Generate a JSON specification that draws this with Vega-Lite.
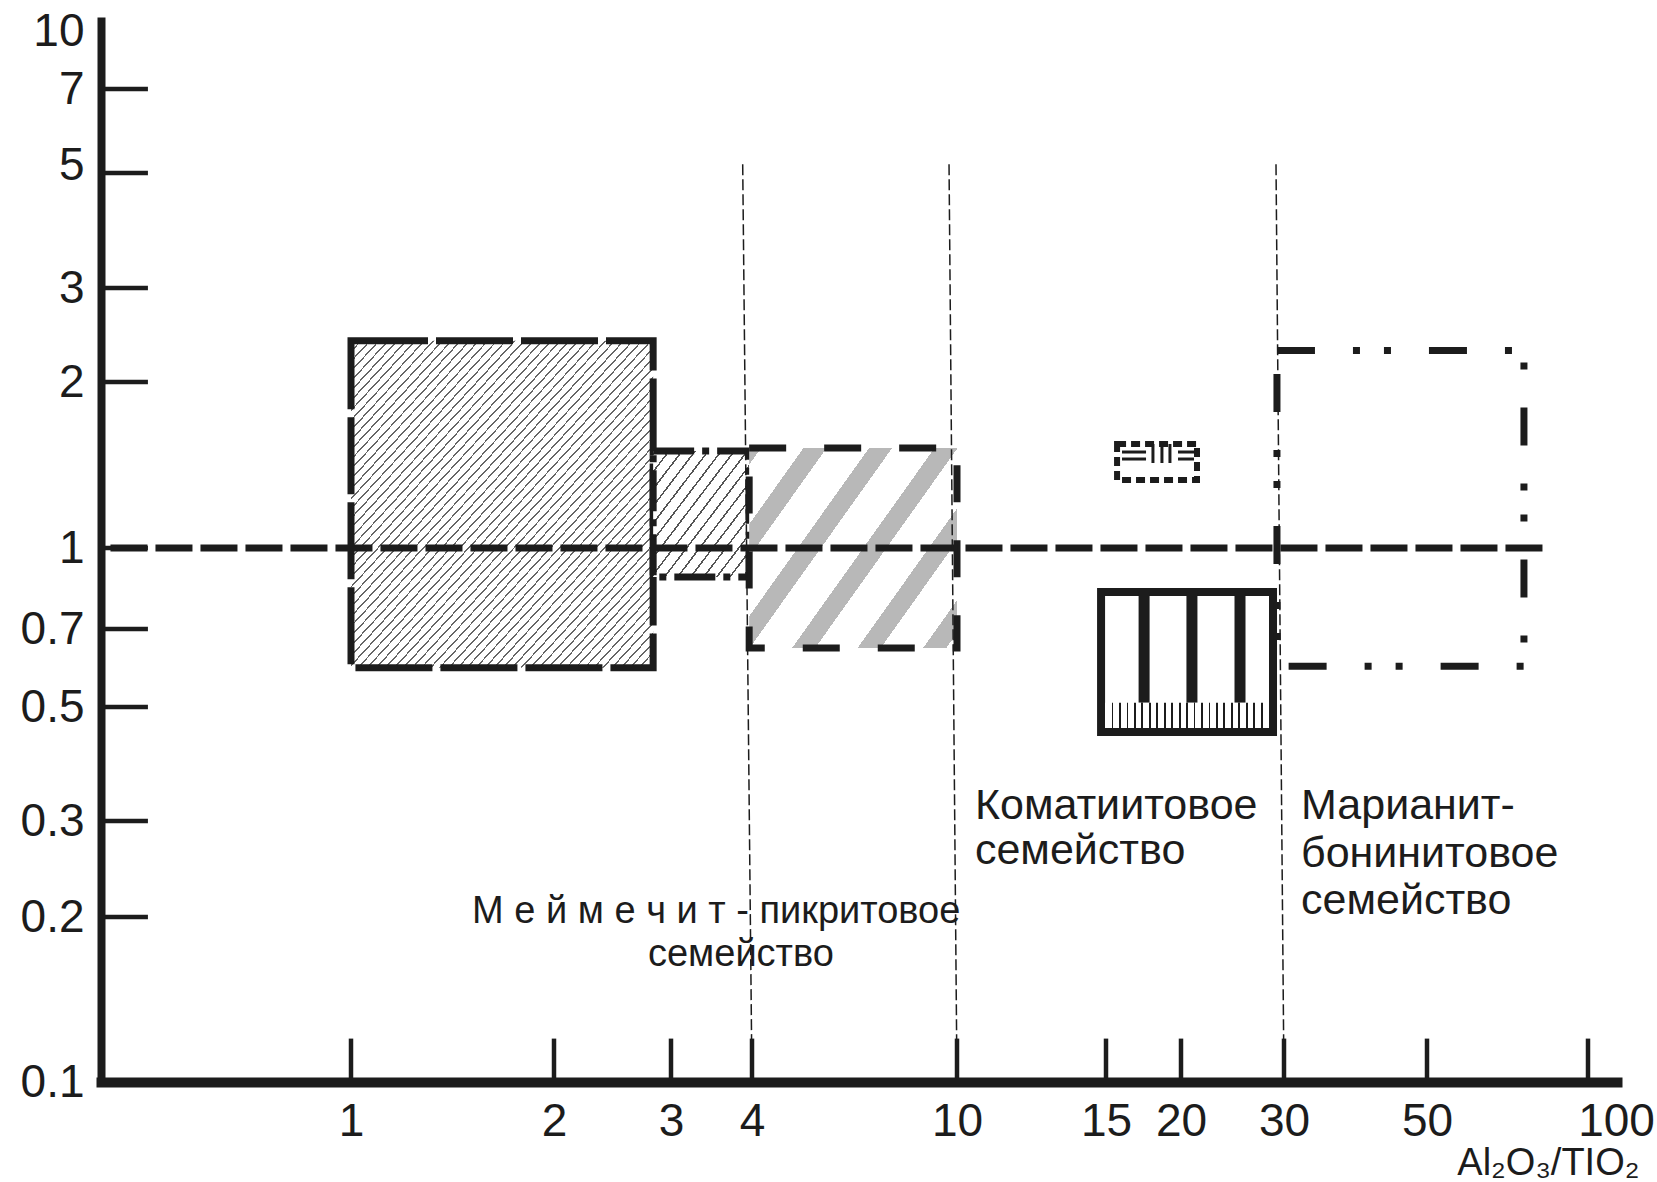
{
"$schema": "https://vega.github.io/schema/vega-lite/v6.json",
"width": 1516, "height": 1065,
"autosize": {"type": "none"},
"padding": {"left": 101, "top": 17, "right": 40, "bottom": 100},
"background": "#ffffff",
"config": {"view": {"stroke": null}, "font": "Liberation Sans"},
"datasets": {
 "boxes": [
  {"id":"A","x":1,"x2":2.82,"y":0.592,"y2":2.39},
  {"id":"B","x":2.82,"x2":3.96,"y":0.88,"y2":1.5},
  {"id":"C","x":3.96,"x2":10,"y":0.645,"y2":1.518},
  {"id":"D","x":14.8,"x2":28.73,"y":0.447,"y2":0.824},
  {"id":"Dband","x":14.96,"x2":28.28,"y":0.455,"y2":0.509},
  {"id":"E","x":29.18,"x2":75.9,"y":0.596,"y2":2.29},
  {"id":"F","x":15.65,"x2":21.3,"y":1.328,"y2":1.544}
 ],
 "bars": [{"x":17.36,"y":0.509,"y2":0.824},{"x":20.88,"y":0.509,"y2":0.824},{"x":25.23,"y":0.509,"y2":0.824}],
 "vlines": [{"x":3.87,"x2":4,"y":5.18,"y2":0.1},{"x":9.65,"x2":10,"y":5.18,"y2":0.1},{"x":29.07,"x2":30,"y":5.18,"y2":0.1}],
 "hline": [{"x":0.44,"x2":82.4,"y":1}],
 "yticks": [{"x":0.426,"x2":0.5,"y":7},{"x":0.426,"x2":0.5,"y":5},{"x":0.426,"x2":0.5,"y":3},{"x":0.426,"x2":0.5,"y":2},{"x":0.426,"x2":0.5,"y":1},{"x":0.426,"x2":0.5,"y":0.7},{"x":0.426,"x2":0.5,"y":0.5},{"x":0.426,"x2":0.5,"y":0.3},{"x":0.426,"x2":0.5,"y":0.2}],
 "xticks": [{"x":1,"y":0.1,"y2":0.12},{"x":2,"y":0.1,"y2":0.12},{"x":3,"y":0.1,"y2":0.12},{"x":4,"y":0.1,"y2":0.12},{"x":10,"y":0.1,"y2":0.12},{"x":15,"y":0.1,"y2":0.12},{"x":20,"y":0.1,"y2":0.12},{"x":30,"y":0.1,"y2":0.12},{"x":50,"y":0.1,"y2":0.12},{"x":100,"y":0.1,"y2":0.12}],
 "fsym": [
  {"x":17.96,"x2":17.96,"y":1.426,"y2":1.544},
  {"x":18.59,"x2":18.59,"y":1.426,"y2":1.544},
  {"x":19.17,"x2":19.17,"y":1.426,"y2":1.544},
  {"x":15.95,"x2":17.49,"y":1.493,"y2":1.493},
  {"x":15.95,"x2":17.49,"y":1.45,"y2":1.45},
  {"x":19.77,"x2":21.05,"y":1.493,"y2":1.493},
  {"x":19.77,"x2":21.05,"y":1.45,"y2":1.45}
 ],
 "labels1": [
  {"x":10.5,"y":0.3027,"t":"Коматиитовое"},
  {"x":10.5,"y":0.25,"t":"семейство"},
  {"x":31.88,"y":0.3027,"t":"Марианит-"},
  {"x":31.88,"y":0.247,"t":"бонинитовое"},
  {"x":31.88,"y":0.2025,"t":"семейство"}
 ],
 "labels2": [
  {"x":1.512,"y":0.195,"t":"М е й м е ч и т - пикритовое"},
  {"x":2.77,"y":0.163,"t":"семейство"}
 ]
},
"encoding": {
 "x": {"field": "x", "type": "quantitative",
  "scale": {"type": "log", "domain": [0.426,1,2,3,4,10,15,20,30,50,100,113], "range": [0,250,453,570,651,856,1005,1080,1183,1326,1487,1516], "nice": false},
  "axis": {"values": [1,2,3,4,10,15,20,30,50,100], "format": "~g", "ticks": false, "grid": false,
   "domainColor": "#1c1c1c", "domainWidth": 10, "domainCap": "square",
   "labelFont": "Liberation Sans", "labelFontSize": 46, "labelColor": "#1c1c1c",
   "labelPadding": 17, "labelBaseline": "top", "labelAlign": "center",
   "labelOffset": {"condition": {"test": "datum.value === 100", "value": 28}, "value": 0},
   "labelFlush": false, "labelOverlap": false,
   "title": "Al₂O₃/TIO₂", "titleFont": "Liberation Sans", "titleFontSize": 38, "titleFontWeight": "normal", "titleColor": "#1c1c1c",
   "titleAnchor": "end", "titleAlign": "right", "titleBaseline": "alphabetic", "titleX": 1538, "titleY": 92}},
 "y": {"field": "y", "type": "quantitative",
  "scale": {"type": "log", "domain": [0.1,0.2,0.3,0.5,0.7,1,2,3,5,7,10], "range": [1065,900,804,690,612,531,365,271,156,72,0], "nice": false},
  "axis": {"values": [0.1,0.2,0.3,0.5,0.7,1,2,3,5,7,10], "format": "~g", "ticks": false, "grid": false,
   "domainColor": "#1c1c1c", "domainWidth": 8, "domainCap": "butt",
   "labelFont": "Liberation Sans", "labelFontSize": 46, "labelColor": "#1c1c1c",
   "labelPadding": 17, "labelAlign": "right", "labelBaseline": "middle",
   "labelOffset": {"condition": [{"test": "datum.value === 10", "value": 14}, {"test": "datum.value === 5", "value": -8}], "value": 0},
   "labelFlush": false, "labelOverlap": false, "title": null}}
},
"layer": [
 {"data": {"name": "boxes"}, "transform": [{"filter": "datum.id === 'A'"}],
  "mark": {"type": "rect", "stroke": "#1c1c1c", "strokeWidth": 7, "strokeDash": [77, 8],
   "fill": {"gradient": "linear", "x1": 0, "y1": 0, "x2": 1, "y2": 1, "stops": [
{"offset":0,"color":"#666"},{"offset":0.003,"color":"#666"},{"offset":0.003,"color":"#fff"},
{"offset":0.015,"color":"#fff"},{"offset":0.015,"color":"#666"},{"offset":0.018,"color":"#666"},{"offset":0.018,"color":"#fff"},
{"offset":0.03,"color":"#fff"},{"offset":0.03,"color":"#666"},{"offset":0.033,"color":"#666"},{"offset":0.033,"color":"#fff"},
{"offset":0.045,"color":"#fff"},{"offset":0.045,"color":"#666"},{"offset":0.048,"color":"#666"},{"offset":0.048,"color":"#fff"},
{"offset":0.06,"color":"#fff"},{"offset":0.06,"color":"#666"},{"offset":0.063,"color":"#666"},{"offset":0.063,"color":"#fff"},
{"offset":0.075,"color":"#fff"},{"offset":0.075,"color":"#666"},{"offset":0.078,"color":"#666"},{"offset":0.078,"color":"#fff"},
{"offset":0.09,"color":"#fff"},{"offset":0.09,"color":"#666"},{"offset":0.093,"color":"#666"},{"offset":0.093,"color":"#fff"},
{"offset":0.105,"color":"#fff"},{"offset":0.105,"color":"#666"},{"offset":0.108,"color":"#666"},{"offset":0.108,"color":"#fff"},
{"offset":0.12,"color":"#fff"},{"offset":0.12,"color":"#666"},{"offset":0.123,"color":"#666"},{"offset":0.123,"color":"#fff"},
{"offset":0.135,"color":"#fff"},{"offset":0.135,"color":"#666"},{"offset":0.138,"color":"#666"},{"offset":0.138,"color":"#fff"},
{"offset":0.15,"color":"#fff"},{"offset":0.15,"color":"#666"},{"offset":0.153,"color":"#666"},{"offset":0.153,"color":"#fff"},
{"offset":0.165,"color":"#fff"},{"offset":0.165,"color":"#666"},{"offset":0.168,"color":"#666"},{"offset":0.168,"color":"#fff"},
{"offset":0.18,"color":"#fff"},{"offset":0.18,"color":"#666"},{"offset":0.183,"color":"#666"},{"offset":0.183,"color":"#fff"},
{"offset":0.195,"color":"#fff"},{"offset":0.195,"color":"#666"},{"offset":0.198,"color":"#666"},{"offset":0.198,"color":"#fff"},
{"offset":0.21,"color":"#fff"},{"offset":0.21,"color":"#666"},{"offset":0.213,"color":"#666"},{"offset":0.213,"color":"#fff"},
{"offset":0.225,"color":"#fff"},{"offset":0.225,"color":"#666"},{"offset":0.228,"color":"#666"},{"offset":0.228,"color":"#fff"},
{"offset":0.24,"color":"#fff"},{"offset":0.24,"color":"#666"},{"offset":0.243,"color":"#666"},{"offset":0.243,"color":"#fff"},
{"offset":0.255,"color":"#fff"},{"offset":0.255,"color":"#666"},{"offset":0.258,"color":"#666"},{"offset":0.258,"color":"#fff"},
{"offset":0.27,"color":"#fff"},{"offset":0.27,"color":"#666"},{"offset":0.273,"color":"#666"},{"offset":0.273,"color":"#fff"},
{"offset":0.285,"color":"#fff"},{"offset":0.285,"color":"#666"},{"offset":0.288,"color":"#666"},{"offset":0.288,"color":"#fff"},
{"offset":0.3,"color":"#fff"},{"offset":0.3,"color":"#666"},{"offset":0.303,"color":"#666"},{"offset":0.303,"color":"#fff"},
{"offset":0.315,"color":"#fff"},{"offset":0.315,"color":"#666"},{"offset":0.318,"color":"#666"},{"offset":0.318,"color":"#fff"},
{"offset":0.33,"color":"#fff"},{"offset":0.33,"color":"#666"},{"offset":0.333,"color":"#666"},{"offset":0.333,"color":"#fff"},
{"offset":0.345,"color":"#fff"},{"offset":0.345,"color":"#666"},{"offset":0.348,"color":"#666"},{"offset":0.348,"color":"#fff"},
{"offset":0.36,"color":"#fff"},{"offset":0.36,"color":"#666"},{"offset":0.363,"color":"#666"},{"offset":0.363,"color":"#fff"},
{"offset":0.375,"color":"#fff"},{"offset":0.375,"color":"#666"},{"offset":0.378,"color":"#666"},{"offset":0.378,"color":"#fff"},
{"offset":0.39,"color":"#fff"},{"offset":0.39,"color":"#666"},{"offset":0.393,"color":"#666"},{"offset":0.393,"color":"#fff"},
{"offset":0.405,"color":"#fff"},{"offset":0.405,"color":"#666"},{"offset":0.408,"color":"#666"},{"offset":0.408,"color":"#fff"},
{"offset":0.42,"color":"#fff"},{"offset":0.42,"color":"#666"},{"offset":0.423,"color":"#666"},{"offset":0.423,"color":"#fff"},
{"offset":0.435,"color":"#fff"},{"offset":0.435,"color":"#666"},{"offset":0.438,"color":"#666"},{"offset":0.438,"color":"#fff"},
{"offset":0.45,"color":"#fff"},{"offset":0.45,"color":"#666"},{"offset":0.453,"color":"#666"},{"offset":0.453,"color":"#fff"},
{"offset":0.465,"color":"#fff"},{"offset":0.465,"color":"#666"},{"offset":0.468,"color":"#666"},{"offset":0.468,"color":"#fff"},
{"offset":0.48,"color":"#fff"},{"offset":0.48,"color":"#666"},{"offset":0.483,"color":"#666"},{"offset":0.483,"color":"#fff"},
{"offset":0.495,"color":"#fff"},{"offset":0.495,"color":"#666"},{"offset":0.498,"color":"#666"},{"offset":0.498,"color":"#fff"},
{"offset":0.51,"color":"#fff"},{"offset":0.51,"color":"#666"},{"offset":0.513,"color":"#666"},{"offset":0.513,"color":"#fff"},
{"offset":0.525,"color":"#fff"},{"offset":0.525,"color":"#666"},{"offset":0.528,"color":"#666"},{"offset":0.528,"color":"#fff"},
{"offset":0.54,"color":"#fff"},{"offset":0.54,"color":"#666"},{"offset":0.543,"color":"#666"},{"offset":0.543,"color":"#fff"},
{"offset":0.555,"color":"#fff"},{"offset":0.555,"color":"#666"},{"offset":0.558,"color":"#666"},{"offset":0.558,"color":"#fff"},
{"offset":0.57,"color":"#fff"},{"offset":0.57,"color":"#666"},{"offset":0.573,"color":"#666"},{"offset":0.573,"color":"#fff"},
{"offset":0.585,"color":"#fff"},{"offset":0.585,"color":"#666"},{"offset":0.588,"color":"#666"},{"offset":0.588,"color":"#fff"},
{"offset":0.6,"color":"#fff"},{"offset":0.6,"color":"#666"},{"offset":0.603,"color":"#666"},{"offset":0.603,"color":"#fff"},
{"offset":0.615,"color":"#fff"},{"offset":0.615,"color":"#666"},{"offset":0.618,"color":"#666"},{"offset":0.618,"color":"#fff"},
{"offset":0.63,"color":"#fff"},{"offset":0.63,"color":"#666"},{"offset":0.633,"color":"#666"},{"offset":0.633,"color":"#fff"},
{"offset":0.645,"color":"#fff"},{"offset":0.645,"color":"#666"},{"offset":0.648,"color":"#666"},{"offset":0.648,"color":"#fff"},
{"offset":0.66,"color":"#fff"},{"offset":0.66,"color":"#666"},{"offset":0.663,"color":"#666"},{"offset":0.663,"color":"#fff"},
{"offset":0.675,"color":"#fff"},{"offset":0.675,"color":"#666"},{"offset":0.678,"color":"#666"},{"offset":0.678,"color":"#fff"},
{"offset":0.69,"color":"#fff"},{"offset":0.69,"color":"#666"},{"offset":0.693,"color":"#666"},{"offset":0.693,"color":"#fff"},
{"offset":0.705,"color":"#fff"},{"offset":0.705,"color":"#666"},{"offset":0.708,"color":"#666"},{"offset":0.708,"color":"#fff"},
{"offset":0.72,"color":"#fff"},{"offset":0.72,"color":"#666"},{"offset":0.723,"color":"#666"},{"offset":0.723,"color":"#fff"},
{"offset":0.735,"color":"#fff"},{"offset":0.735,"color":"#666"},{"offset":0.738,"color":"#666"},{"offset":0.738,"color":"#fff"},
{"offset":0.75,"color":"#fff"},{"offset":0.75,"color":"#666"},{"offset":0.753,"color":"#666"},{"offset":0.753,"color":"#fff"},
{"offset":0.765,"color":"#fff"},{"offset":0.765,"color":"#666"},{"offset":0.768,"color":"#666"},{"offset":0.768,"color":"#fff"},
{"offset":0.78,"color":"#fff"},{"offset":0.78,"color":"#666"},{"offset":0.783,"color":"#666"},{"offset":0.783,"color":"#fff"},
{"offset":0.795,"color":"#fff"},{"offset":0.795,"color":"#666"},{"offset":0.798,"color":"#666"},{"offset":0.798,"color":"#fff"},
{"offset":0.81,"color":"#fff"},{"offset":0.81,"color":"#666"},{"offset":0.813,"color":"#666"},{"offset":0.813,"color":"#fff"},
{"offset":0.825,"color":"#fff"},{"offset":0.825,"color":"#666"},{"offset":0.828,"color":"#666"},{"offset":0.828,"color":"#fff"},
{"offset":0.84,"color":"#fff"},{"offset":0.84,"color":"#666"},{"offset":0.843,"color":"#666"},{"offset":0.843,"color":"#fff"},
{"offset":0.855,"color":"#fff"},{"offset":0.855,"color":"#666"},{"offset":0.858,"color":"#666"},{"offset":0.858,"color":"#fff"},
{"offset":0.87,"color":"#fff"},{"offset":0.87,"color":"#666"},{"offset":0.873,"color":"#666"},{"offset":0.873,"color":"#fff"},
{"offset":0.885,"color":"#fff"},{"offset":0.885,"color":"#666"},{"offset":0.888,"color":"#666"},{"offset":0.888,"color":"#fff"},
{"offset":0.9,"color":"#fff"},{"offset":0.9,"color":"#666"},{"offset":0.903,"color":"#666"},{"offset":0.903,"color":"#fff"},
{"offset":0.915,"color":"#fff"},{"offset":0.915,"color":"#666"},{"offset":0.918,"color":"#666"},{"offset":0.918,"color":"#fff"},
{"offset":0.93,"color":"#fff"},{"offset":0.93,"color":"#666"},{"offset":0.933,"color":"#666"},{"offset":0.933,"color":"#fff"},
{"offset":0.945,"color":"#fff"},{"offset":0.945,"color":"#666"},{"offset":0.948,"color":"#666"},{"offset":0.948,"color":"#fff"},
{"offset":0.96,"color":"#fff"},{"offset":0.96,"color":"#666"},{"offset":0.963,"color":"#666"},{"offset":0.963,"color":"#fff"},
{"offset":0.975,"color":"#fff"},{"offset":0.975,"color":"#666"},{"offset":0.978,"color":"#666"},{"offset":0.978,"color":"#fff"},
{"offset":0.99,"color":"#fff"},{"offset":0.99,"color":"#666"},{"offset":0.993,"color":"#666"},{"offset":0.993,"color":"#fff"},
{"offset":1,"color":"#fff"}
   ]}},
  "encoding": {"x2": {"field": "x2"}, "y2": {"field": "y2"}}},
 {"data": {"name": "boxes"}, "transform": [{"filter": "datum.id === 'B'"}],
  "mark": {"type": "rect", "stroke": "#1c1c1c", "strokeWidth": 7, "strokeDash": [41, 8, 7, 8],
   "fill": {"gradient": "linear", "x1": 0, "y1": 0, "x2": 1, "y2": 1, "stops": [
{"offset":0,"color":"#fff"},
{"offset":0.01,"color":"#fff"},{"offset":0.01,"color":"#555"},{"offset":0.02,"color":"#555"},{"offset":0.02,"color":"#fff"},
{"offset":0.078,"color":"#fff"},{"offset":0.078,"color":"#555"},{"offset":0.088,"color":"#555"},{"offset":0.088,"color":"#fff"},
{"offset":0.146,"color":"#fff"},{"offset":0.146,"color":"#555"},{"offset":0.156,"color":"#555"},{"offset":0.156,"color":"#fff"},
{"offset":0.214,"color":"#fff"},{"offset":0.214,"color":"#555"},{"offset":0.224,"color":"#555"},{"offset":0.224,"color":"#fff"},
{"offset":0.282,"color":"#fff"},{"offset":0.282,"color":"#555"},{"offset":0.292,"color":"#555"},{"offset":0.292,"color":"#fff"},
{"offset":0.35,"color":"#fff"},{"offset":0.35,"color":"#555"},{"offset":0.36,"color":"#555"},{"offset":0.36,"color":"#fff"},
{"offset":0.418,"color":"#fff"},{"offset":0.418,"color":"#555"},{"offset":0.428,"color":"#555"},{"offset":0.428,"color":"#fff"},
{"offset":0.486,"color":"#fff"},{"offset":0.486,"color":"#555"},{"offset":0.496,"color":"#555"},{"offset":0.496,"color":"#fff"},
{"offset":0.554,"color":"#fff"},{"offset":0.554,"color":"#555"},{"offset":0.564,"color":"#555"},{"offset":0.564,"color":"#fff"},
{"offset":0.622,"color":"#fff"},{"offset":0.622,"color":"#555"},{"offset":0.632,"color":"#555"},{"offset":0.632,"color":"#fff"},
{"offset":0.69,"color":"#fff"},{"offset":0.69,"color":"#555"},{"offset":0.7,"color":"#555"},{"offset":0.7,"color":"#fff"},
{"offset":0.758,"color":"#fff"},{"offset":0.758,"color":"#555"},{"offset":0.768,"color":"#555"},{"offset":0.768,"color":"#fff"},
{"offset":0.826,"color":"#fff"},{"offset":0.826,"color":"#555"},{"offset":0.836,"color":"#555"},{"offset":0.836,"color":"#fff"},
{"offset":0.894,"color":"#fff"},{"offset":0.894,"color":"#555"},{"offset":0.904,"color":"#555"},{"offset":0.904,"color":"#fff"},
{"offset":0.962,"color":"#fff"},{"offset":0.962,"color":"#555"},{"offset":0.972,"color":"#555"},{"offset":0.972,"color":"#fff"},
{"offset":1,"color":"#fff"}
   ]}},
  "encoding": {"x2": {"field": "x2"}, "y2": {"field": "y2"}}},
 {"data": {"name": "boxes"}, "transform": [{"filter": "datum.id === 'C'"}],
  "mark": {"type": "rect", "stroke": "#1c1c1c", "strokeWidth": 7, "strokeDash": [37, 38],
   "fill": {"gradient": "linear", "x1": 0, "y1": 0, "x2": 1.147, "y2": 0.786, "stops": [
{"offset":0,"color":"#b8b8b8"},{"offset":0.034,"color":"#b8b8b8"},{"offset":0.034,"color":"#fff"},
{"offset":0.155,"color":"#fff"},{"offset":0.155,"color":"#b8b8b8"},{"offset":0.221,"color":"#b8b8b8"},{"offset":0.221,"color":"#fff"},
{"offset":0.342,"color":"#fff"},{"offset":0.342,"color":"#b8b8b8"},{"offset":0.408,"color":"#b8b8b8"},{"offset":0.408,"color":"#fff"},
{"offset":0.529,"color":"#fff"},{"offset":0.529,"color":"#b8b8b8"},{"offset":0.595,"color":"#b8b8b8"},{"offset":0.595,"color":"#fff"},
{"offset":0.716,"color":"#fff"},{"offset":0.716,"color":"#b8b8b8"},{"offset":0.782,"color":"#b8b8b8"},{"offset":0.782,"color":"#fff"},
{"offset":0.903,"color":"#fff"},{"offset":0.903,"color":"#b8b8b8"},{"offset":0.969,"color":"#b8b8b8"},{"offset":0.969,"color":"#fff"},
{"offset":1,"color":"#fff"}
   ]}},
  "encoding": {"x2": {"field": "x2"}, "y2": {"field": "y2"}}},
 {"data": {"name": "hline"},
  "mark": {"type": "rule", "color": "#1c1c1c", "strokeWidth": 7, "strokeDash": [37, 8]},
  "encoding": {"x2": {"field": "x2"}}},
 {"data": {"name": "vlines"},
  "mark": {"type": "rule", "color": "#1c1c1c", "strokeWidth": 1.5, "strokeDash": [11, 4]},
  "encoding": {"x2": {"field": "x2"}, "y2": {"field": "y2"}}},
 {"data": {"name": "boxes"}, "transform": [{"filter": "datum.id === 'D'"}],
  "mark": {"type": "rect", "filled": false, "stroke": "#1c1c1c", "strokeWidth": 8},
  "encoding": {"x2": {"field": "x2"}, "y2": {"field": "y2"}}},
 {"data": {"name": "bars"},
  "mark": {"type": "rule", "color": "#1c1c1c", "strokeWidth": 11},
  "encoding": {"y2": {"field": "y2"}}},
 {"data": {"name": "boxes"}, "transform": [{"filter": "datum.id === 'Dband'"}],
  "mark": {"type": "rect",
   "fill": {"gradient": "linear", "x1": 0, "y1": 0, "x2": 1, "y2": 0, "stops": [
{"offset":0,"color":"#fff"},
{"offset":0.04,"color":"#fff"},{"offset":0.04,"color":"#1c1c1c"},{"offset":0.051,"color":"#1c1c1c"},{"offset":0.051,"color":"#fff"},
{"offset":0.0855,"color":"#fff"},{"offset":0.0855,"color":"#1c1c1c"},{"offset":0.0965,"color":"#1c1c1c"},{"offset":0.0965,"color":"#fff"},
{"offset":0.131,"color":"#fff"},{"offset":0.131,"color":"#1c1c1c"},{"offset":0.142,"color":"#1c1c1c"},{"offset":0.142,"color":"#fff"},
{"offset":0.1765,"color":"#fff"},{"offset":0.1765,"color":"#1c1c1c"},{"offset":0.1875,"color":"#1c1c1c"},{"offset":0.1875,"color":"#fff"},
{"offset":0.222,"color":"#fff"},{"offset":0.222,"color":"#1c1c1c"},{"offset":0.233,"color":"#1c1c1c"},{"offset":0.233,"color":"#fff"},
{"offset":0.2675,"color":"#fff"},{"offset":0.2675,"color":"#1c1c1c"},{"offset":0.2785,"color":"#1c1c1c"},{"offset":0.2785,"color":"#fff"},
{"offset":0.313,"color":"#fff"},{"offset":0.313,"color":"#1c1c1c"},{"offset":0.324,"color":"#1c1c1c"},{"offset":0.324,"color":"#fff"},
{"offset":0.3585,"color":"#fff"},{"offset":0.3585,"color":"#1c1c1c"},{"offset":0.3695,"color":"#1c1c1c"},{"offset":0.3695,"color":"#fff"},
{"offset":0.404,"color":"#fff"},{"offset":0.404,"color":"#1c1c1c"},{"offset":0.415,"color":"#1c1c1c"},{"offset":0.415,"color":"#fff"},
{"offset":0.4495,"color":"#fff"},{"offset":0.4495,"color":"#1c1c1c"},{"offset":0.4605,"color":"#1c1c1c"},{"offset":0.4605,"color":"#fff"},
{"offset":0.495,"color":"#fff"},{"offset":0.495,"color":"#1c1c1c"},{"offset":0.506,"color":"#1c1c1c"},{"offset":0.506,"color":"#fff"},
{"offset":0.5405,"color":"#fff"},{"offset":0.5405,"color":"#1c1c1c"},{"offset":0.5515,"color":"#1c1c1c"},{"offset":0.5515,"color":"#fff"},
{"offset":0.586,"color":"#fff"},{"offset":0.586,"color":"#1c1c1c"},{"offset":0.597,"color":"#1c1c1c"},{"offset":0.597,"color":"#fff"},
{"offset":0.6315,"color":"#fff"},{"offset":0.6315,"color":"#1c1c1c"},{"offset":0.6425,"color":"#1c1c1c"},{"offset":0.6425,"color":"#fff"},
{"offset":0.677,"color":"#fff"},{"offset":0.677,"color":"#1c1c1c"},{"offset":0.688,"color":"#1c1c1c"},{"offset":0.688,"color":"#fff"},
{"offset":0.7225,"color":"#fff"},{"offset":0.7225,"color":"#1c1c1c"},{"offset":0.7335,"color":"#1c1c1c"},{"offset":0.7335,"color":"#fff"},
{"offset":0.768,"color":"#fff"},{"offset":0.768,"color":"#1c1c1c"},{"offset":0.779,"color":"#1c1c1c"},{"offset":0.779,"color":"#fff"},
{"offset":0.8135,"color":"#fff"},{"offset":0.8135,"color":"#1c1c1c"},{"offset":0.8245,"color":"#1c1c1c"},{"offset":0.8245,"color":"#fff"},
{"offset":0.859,"color":"#fff"},{"offset":0.859,"color":"#1c1c1c"},{"offset":0.87,"color":"#1c1c1c"},{"offset":0.87,"color":"#fff"},
{"offset":0.9045,"color":"#fff"},{"offset":0.9045,"color":"#1c1c1c"},{"offset":0.9155,"color":"#1c1c1c"},{"offset":0.9155,"color":"#fff"},
{"offset":0.95,"color":"#fff"},{"offset":0.95,"color":"#1c1c1c"},{"offset":0.961,"color":"#1c1c1c"},{"offset":0.961,"color":"#fff"},
{"offset":1,"color":"#fff"}
   ]}},
  "encoding": {"x2": {"field": "x2"}, "y2": {"field": "y2"}}},
 {"data": {"name": "boxes"}, "transform": [{"filter": "datum.id === 'E'"}],
  "mark": {"type": "rect", "filled": false, "stroke": "#1c1c1c", "strokeWidth": 7, "strokeDash": [38, 38, 7, 24, 7, 38]},
  "encoding": {"x2": {"field": "x2"}, "y2": {"field": "y2"}}},
 {"data": {"name": "boxes"}, "transform": [{"filter": "datum.id === 'F'"}],
  "mark": {"type": "rect", "filled": false, "stroke": "#1c1c1c", "strokeWidth": 6, "strokeDash": [9, 5]},
  "encoding": {"x2": {"field": "x2"}, "y2": {"field": "y2"}}},
 {"data": {"name": "fsym"},
  "mark": {"type": "rule", "color": "#1c1c1c", "strokeWidth": 3},
  "encoding": {"x2": {"field": "x2"}, "y2": {"field": "y2"}}},
 {"data": {"name": "yticks"},
  "mark": {"type": "rule", "color": "#1c1c1c", "strokeWidth": 4.5},
  "encoding": {"x2": {"field": "x2"}}},
 {"data": {"name": "xticks"},
  "mark": {"type": "rule", "color": "#1c1c1c", "strokeWidth": 4.5},
  "encoding": {"y2": {"field": "y2"}}},
 {"data": {"name": "labels1"},
  "mark": {"type": "text", "align": "left", "baseline": "alphabetic", "font": "Liberation Sans", "fontSize": 43, "color": "#1c1c1c"},
  "encoding": {"text": {"field": "t"}}},
 {"data": {"name": "labels2"},
  "mark": {"type": "text", "align": "left", "baseline": "alphabetic", "font": "Liberation Sans", "fontSize": 38, "color": "#1c1c1c"},
  "encoding": {"text": {"field": "t"}}}
]
}
